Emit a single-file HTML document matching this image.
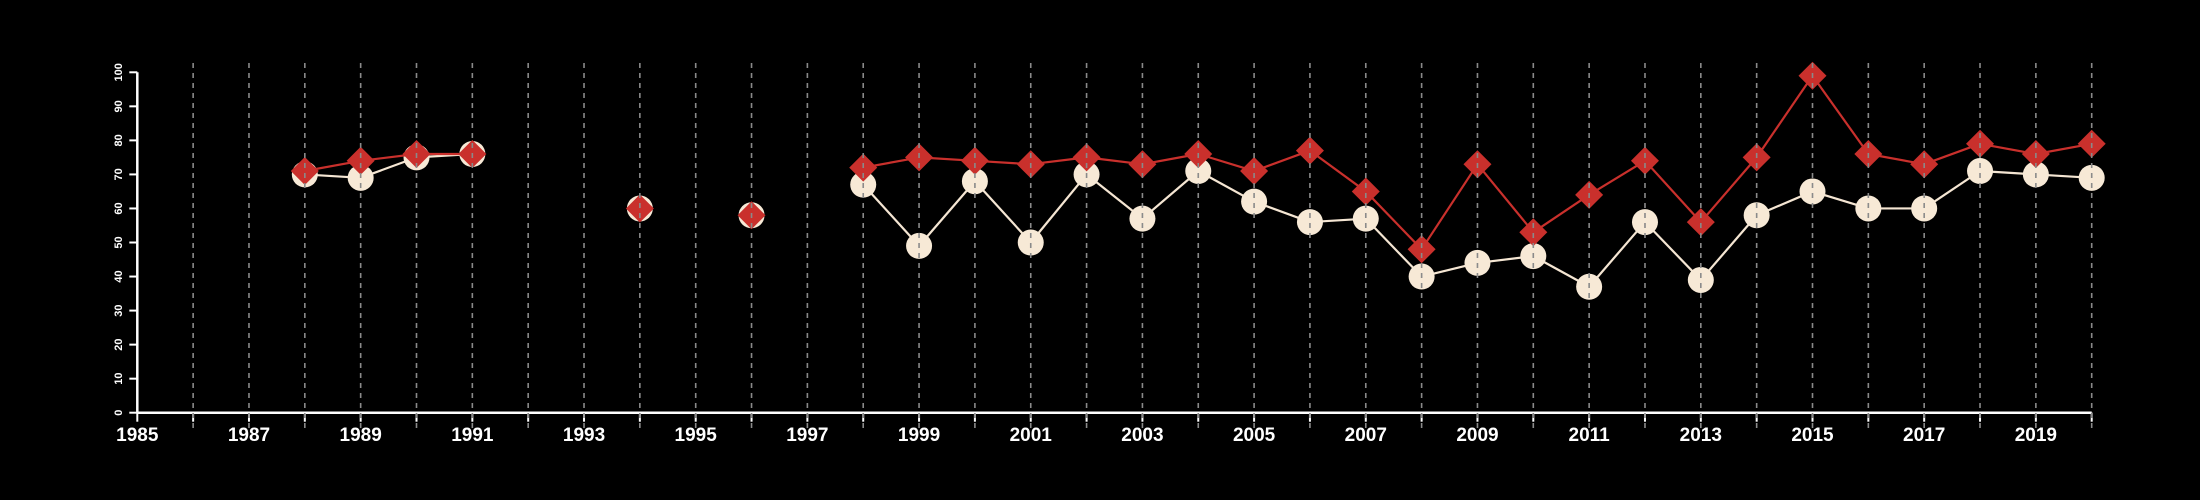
<!DOCTYPE html>
<html><head><meta charset="utf-8"><style>
html,body{margin:0;padding:0;background:#000;}
svg{display:block;}
text{font-family:"Liberation Sans",sans-serif;fill:#fff;}
</style></head><body>
<svg id="chart" width="2200" height="500" viewBox="0 0 2200 500" xmlns="http://www.w3.org/2000/svg"></svg>
<script>
const years = [1988,1989,1990,1991,1992,1993,1994,1995,1996,1997,1998,1999,2000,2001,2002,2003,2004,2005,2006,2007,2008,2009,2010,2011,2012,2013,2014,2015,2016,2017,2018,2019,2020];
const whiteSeries = [70,69,75,76,null,null,60,null,58,null,67,49,68,50,70,57,71,62,56,57,40,44,46,37,56,39,58,65,60,60,71,70,69];
const redSeries = [71,74,76,76,null,null,60,null,58,null,72,75,74,73,75,73,76,71,77,65,48,73,53,64,74,56,75,99,76,73,79,76,79];
const yTicks = [0,10,20,30,40,50,60,70,80,90,100];
const xTickLabels = [1985,1987,1989,1991,1993,1995,1997,1999,2001,2003,2005,2007,2009,2011,2013,2015,2017,2019];

const NS="http://www.w3.org/2000/svg";
const svg=document.getElementById('chart');
const x0=137.3, yr0=1985, pxYr=55.84, yZero=412.7, pxUnit=3.404;
const X=y=>x0+(y-yr0)*pxYr;
const Y=v=>yZero-v*pxUnit;
function mk(tag,attrs,parent){const e=document.createElementNS(NS,tag);for(const k in attrs)e.setAttribute(k,attrs[k]);(parent||svg).appendChild(e);return e;}

const axes=mk('g',{});


const yAxis=mk('line',{x1:x0,y1:Y(0),x2:x0,y2:Y(100),stroke:'#fff','stroke-width':2.5},axes);


const xAxis=mk('line',{x1:x0,y1:Y(0),x2:X(2020),y2:Y(0),stroke:'#fff','stroke-width':2.5},axes);


yTicks.forEach(v=>{
  const t=mk('line',{x1:x0-8,y1:Y(v),x2:x0,y2:Y(v),stroke:'#fff','stroke-width':2},axes);
  
  
  const l=mk('text',{x:0,y:0,'font-size':11,'font-weight':'bold','text-anchor':'middle',transform:`translate(122,${Y(v)}) rotate(-90)`},axes);
  
  
  l.textContent=v;
});
for(let y=1985;y<=2020;y++){
  const t=mk('line',{x1:X(y),y1:Y(0),x2:X(y),y2:Y(0)+9,stroke:'#fff','stroke-width':2},axes);
  
  
}
xTickLabels.forEach(y=>{
  const l=mk('text',{x:X(y),y:441,'font-size':19,'font-weight':'bold','text-anchor':'middle'},axes);
  
  
  l.textContent=y;
});

function drawSeries(vals,color,name){
  const g=mk('g',{});
  
  
  for(let i=1;i<years.length;i++){
    if(vals[i]!=null&&vals[i-1]!=null&&years[i]-years[i-1]===1){
      const s=mk('line',{x1:X(years[i-1]),y1:Y(vals[i-1]),x2:X(years[i]),y2:Y(vals[i]),stroke:color,'stroke-width':2.2},g);
      
      
    }
  }
  return g;
}
const wg=drawSeries(whiteSeries,'#f5e6d3','white-series');
const rg=drawSeries(redSeries,'#c9302c','red-series');
years.forEach((y,i)=>{
  const v=whiteSeries[i]; if(v==null)return;
  const c=mk('circle',{cx:X(y),cy:Y(v),r:13,fill:'#f7e9d6'},wg);
  
  
});
years.forEach((y,i)=>{
  const v=redSeries[i]; if(v==null)return;
  const cx=X(y),cy=Y(v),d=14;
  const p=mk('polygon',{points:`${cx},${cy-d} ${cx+d},${cy} ${cx},${cy+d} ${cx-d},${cy}`,fill:'#c9302c'},rg);
  
  
});
const grid=mk('g',{});


for(let y=1986;y<=2020;y++){
  const gl=mk('line',{x1:X(y),y1:63,x2:X(y),y2:428,stroke:'#8a8a8a','stroke-width':1.6,'stroke-dasharray':'5,5'},grid);
  
  
}
</script>
</body></html>
